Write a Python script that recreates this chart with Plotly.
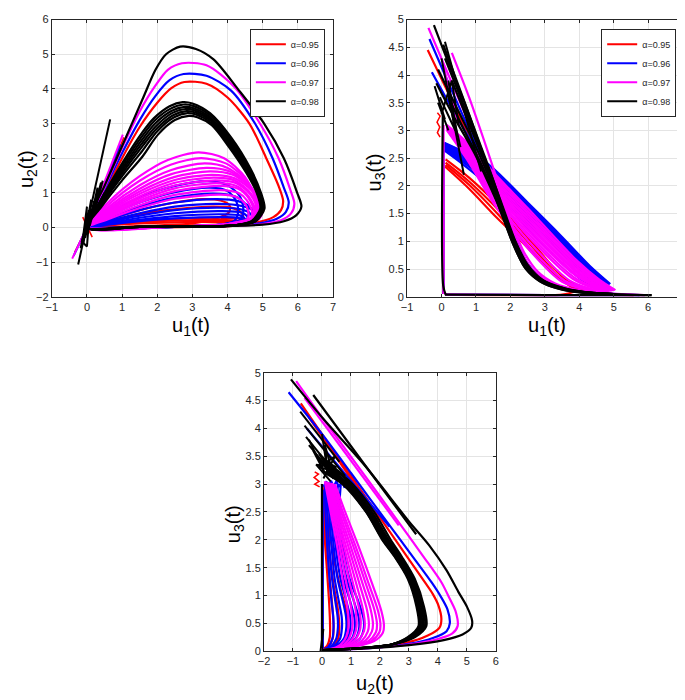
import plotly.graph_objects as go

# ---------------- legend / series labels ----------------
ALPHA_LABELS = ["α=0.95", "α=0.96", "α=0.97", "α=0.98"]
SERIES_KEYS = ["red", "blue", "mag", "blk"]

# ---------------- Panel 1 : u1 (x) vs u2 (y) ----------------
P1_RED = [
    [(0,0),(1,0.01),(2.5,0.02),(4,0.05),(4.8,0.14),(5.3,0.3),(5.52,0.5),(5.58,0.77),(5.45,1.2),(5.1,2.0),(4.62,3.0),(4.0,3.75),(3.4,4.15),(2.77,4.2),(2.4,4.02),(2.0,3.6),(1.5,2.9),(1.0,2.0),(0.5,1.0),(0,0)],
    [(0,0),(0.6,0.22),(1.5,0.5),(2.5,0.72),(3.3,0.82),(3.8,0.78),(4.05,0.65),(4.05,0.45),(3.8,0.3),(3.0,0.12),(1.5,0.04),(0,0)],
    [(0,0),(0.6,0.17),(1.5,0.38),(2.5,0.52),(3.6,0.6),(4.15,0.56),(4.4,0.42),(4.45,0.28),(4.3,0.15),(3.0,0.06),(1.5,0.03),(0,0)],
    [(0,0),(0.6,0.1),(1.5,0.2),(2.5,0.25),(3.8,0.28),(4.35,0.26),(4.55,0.2),(4.5,0.12),(4.2,0.08),(3.0,0.04),(0,0)],
    [(0,0),(0.6,0.08),(1.5,0.16),(2.5,0.2),(3.5,0.22),(4.2,0.2),(4.4,0.15),(4.2,0.08),(3.0,0.03),(0,0)],
    [(0,0),(0.6,0.06),(1.5,0.12),(2.5,0.15),(3.6,0.16),(4.3,0.14),(4.45,0.1),(4.2,0.05),(3.0,0.02),(0,0)],
]
P1_RED_SPIKES = [
    [(-0.12,0.3),(0.15,-0.28)],
    [(-0.08,-0.1),(0.1,0.12)],
    [(-0.35,-0.72),(0,0)],
    [(0,0),(1.05,2.6)],
]
P1_BLUE = [
    [(0,0),(1,0.01),(2.5,0.02),(4,0.05),(4.9,0.12),(5.4,0.25),(5.66,0.45),(5.74,0.72),(5.6,1.15),(5.28,2.0),(4.78,3.0),(4.1,3.95),(3.4,4.38),(2.75,4.43),(2.35,4.25),(1.95,3.8),(1.5,3.1),(1.0,2.15),(0.5,1.1),(0,0)],
    [(0,0),(0.6,0.4),(1.5,0.86),(2.5,1.2),(3.45,1.34),(4.0,1.22),(4.35,0.9),(4.45,0.5),(4.35,0.22),(3.8,0.08),(2.5,0.03),(0,0)],
    [(0,0),(0.6,0.33),(1.5,0.72),(2.5,1.02),(3.5,1.15),(4.0,1.05),(4.25,0.75),(4.3,0.45),(4.2,0.2),(3.8,0.08),(2.5,0.03),(0,0)],
    [(0,0),(0.6,0.27),(1.5,0.6),(2.5,0.86),(3.6,0.98),(4.2,0.9),(4.5,0.68),(4.6,0.4),(4.5,0.18),(3.8,0.07),(2.5,0.03),(0,0)],
    [(0,0),(0.6,0.22),(1.5,0.5),(2.5,0.72),(3.7,0.82),(4.3,0.76),(4.65,0.58),(4.75,0.35),(4.65,0.16),(3.8,0.06),(2.5,0.03),(0,0)],
    [(0,0),(0.6,0.18),(1.5,0.41),(2.5,0.6),(3.75,0.68),(4.4,0.62),(4.75,0.48),(4.85,0.3),(4.7,0.14),(3.8,0.06),(2.5,0.03),(0,0)],
    [(0,0),(0.6,0.15),(1.5,0.34),(2.5,0.5),(3.8,0.57),(4.4,0.52),(4.65,0.4),(4.7,0.26),(4.6,0.12),(3.8,0.05),(2.5,0.02),(0,0)],
    [(0,0),(0.6,0.12),(1.5,0.28),(2.5,0.41),(3.85,0.47),(4.4,0.43),(4.55,0.33),(4.6,0.22),(4.5,0.1),(3.8,0.05),(2.5,0.02),(0,0)],
    [(0,0),(0.6,0.1),(1.5,0.22),(2.5,0.33),(3.9,0.38),(4.35,0.35),(4.48,0.27),(4.5,0.18),(4.4,0.09),(3.8,0.04),(2.5,0.02),(0,0)],
    [(0,0),(0.6,0.08),(1.5,0.18),(2.5,0.26),(3.9,0.3),(4.3,0.28),(4.45,0.2),(4.4,0.1),(3.8,0.04),(2.5,0.02),(0,0)],
]
P1_BLUE_SPIKES = [
    [(-0.38,-0.82),(0,0)],
    [(0,0),(0.95,2.4)],
]
P1_MAG = [
    [(0,0),(1,0.01),(2.5,0.02),(4,0.04),(5,0.1),(5.5,0.2),(5.8,0.4),(5.9,0.68),(5.78,1.1),(5.45,2.0),(4.92,3.0),(4.2,4.05),(3.4,4.68),(2.7,4.74),(2.3,4.55),(1.95,4.1),(1.5,3.35),(1.0,2.3),(0.5,1.15),(0,0)],
    [(0,0),(0.6,0.72),(1.5,1.48),(2.3,1.95),(3.17,2.17),(3.9,2.0),(4.5,1.45),(4.8,0.75),(4.7,0.3),(4.0,0.1),(2.5,0.03),(0,0)],
    [(0,0),(0.6,0.65),(1.5,1.35),(2.4,1.82),(3.25,2.0),(3.95,1.85),(4.55,1.35),(4.85,0.7),(4.75,0.3),(4.0,0.1),(2.5,0.03),(0,0)],
    [(0,0),(0.6,0.58),(1.5,1.22),(2.4,1.66),(3.35,1.85),(4.0,1.72),(4.6,1.25),(4.9,0.65),(4.8,0.28),(4.0,0.09),(2.5,0.03),(0,0)],
    [(0,0),(0.6,0.53),(1.5,1.12),(2.4,1.54),(3.4,1.72),(4.05,1.62),(4.65,1.18),(4.95,0.6),(4.85,0.27),(4.0,0.09),(2.5,0.03),(0,0)],
    [(0,0),(0.6,0.49),(1.5,1.04),(2.5,1.46),(3.5,1.62),(4.15,1.52),(4.7,1.1),(5.0,0.55),(4.9,0.25),(4.0,0.08),(2.5,0.03),(0,0)],
    [(0,0),(0.6,0.45),(1.5,0.97),(2.5,1.37),(3.55,1.52),(4.2,1.42),(4.7,1.05),(4.95,0.55),(4.85,0.25),(4.0,0.08),(2.5,0.03),(0,0)],
    [(0,0),(0.6,0.42),(1.5,0.9),(2.5,1.29),(3.6,1.44),(4.2,1.36),(4.65,1.0),(4.9,0.5),(4.8,0.22),(4.0,0.07),(2.5,0.03),(0,0)],
    [(0,0),(0.6,0.38),(1.5,0.84),(2.5,1.21),(3.65,1.36),(4.25,1.28),(4.65,0.95),(4.85,0.5),(4.75,0.22),(4.0,0.07),(2.5,0.03),(0,0)],
    [(0,0),(0.6,0.35),(1.5,0.78),(2.5,1.13),(3.7,1.28),(4.25,1.2),(4.6,0.9),(4.8,0.45),(4.7,0.2),(4.0,0.07),(2.5,0.03),(0,0)],
    [(0,0),(0.6,0.32),(1.5,0.72),(2.5,1.05),(3.75,1.2),(4.3,1.12),(4.6,0.85),(4.75,0.45),(4.65,0.2),(4.0,0.07),(2.5,0.03),(0,0)],
    [(0,0),(0.6,0.28),(1.5,0.64),(2.5,0.94),(3.8,1.08),(4.3,1.0),(4.55,0.78),(4.7,0.42),(4.6,0.18),(4.0,0.06),(2.5,0.03),(0,0)],
    [(0,0),(0.6,0.24),(1.5,0.56),(2.5,0.83),(3.8,0.95),(4.25,0.88),(4.5,0.68),(4.6,0.38),(4.5,0.16),(4.0,0.06),(2.5,0.03),(0,0)],
]
P1_MAG_SPIKES = [
    [(-0.42,-0.9),(0,0)],
    [(0,0),(1.02,2.68)],
]
P1_BLK = [
    [(0,0),(1,0.01),(2.5,0.02),(4,0.04),(5,0.08),(5.6,0.18),(5.95,0.35),(6.1,0.6),(5.98,1.0),(5.6,2.0),(5.04,3.0),(4.29,4.0),(3.6,4.85),(3.1,5.15),(2.65,5.22),(2.25,5.0),(1.95,4.55),(1.58,3.7),(1.0,2.35),(0.5,1.2),(0,0)],
    [(0,0),(1.5,0.02),(3,0.03),(4.2,0.06),(4.8,0.18),(5.05,0.55),(4.95,1.0),(4.65,1.7),(4.1,2.6),(3.5,3.3),(3.0,3.58),(2.72,3.62),(2.35,3.5),(1.9,3.15),(1.58,2.75),(1.0,1.85),(0.4,0.8),(0,0)],
    [(0,0),(1.5,0.02),(3,0.03),(4.2,0.06),(4.78,0.18),(5.02,0.55),(4.92,1.0),(4.62,1.68),(4.08,2.56),(3.5,3.24),(3.02,3.51),(2.75,3.55),(2.38,3.43),(1.92,3.08),(1.58,2.65),(1.0,1.78),(0.4,0.77),(0,0)],
    [(0,0),(1.5,0.02),(3,0.03),(4.2,0.06),(4.76,0.18),(5.0,0.55),(4.9,1.0),(4.6,1.66),(4.06,2.52),(3.5,3.18),(3.04,3.44),(2.78,3.48),(2.4,3.36),(1.94,3.0),(1.58,2.55),(1.0,1.7),(0.4,0.74),(0,0)],
    [(0,0),(1.5,0.02),(3,0.03),(4.2,0.06),(4.74,0.18),(4.98,0.55),(4.88,1.0),(4.58,1.64),(4.05,2.48),(3.5,3.13),(3.06,3.38),(2.8,3.42),(2.42,3.3),(1.96,2.92),(1.58,2.45),(1.0,1.63),(0.4,0.7),(0,0)],
    [(0,0),(1.5,0.02),(3,0.03),(4.2,0.06),(4.72,0.18),(4.96,0.55),(4.86,1.0),(4.56,1.62),(4.04,2.44),(3.52,3.08),(3.08,3.32),(2.83,3.36),(2.45,3.24),(1.98,2.85),(1.58,2.35),(1.0,1.56),(0.4,0.67),(0,0)],
    [(0,0),(1.5,0.02),(3,0.03),(4.2,0.06),(4.7,0.18),(4.95,0.55),(4.85,1.0),(4.55,1.6),(4.03,2.4),(3.53,3.02),(3.1,3.26),(2.86,3.3),(2.48,3.18),(2.0,2.78),(1.58,2.22),(1.0,1.48),(0.4,0.63),(0,0)],
    [(0,0),(1.5,0.02),(3,0.03),(4.2,0.06),(4.68,0.18),(4.93,0.55),(4.83,1.0),(4.53,1.58),(4.02,2.35),(3.55,2.95),(3.14,3.18),(2.9,3.22),(2.5,3.1),(2.02,2.68),(1.58,2.05),(1.0,1.36),(0.4,0.58),(0,0)],
]
P1_BLK_SPIKES = [
    [(-0.25,-1.07),(0.66,3.12)],
    [(-0.18,-0.6),(0.05,0.5),(-0.1,-0.45),(0.12,0.8),(-0.05,-0.3),(0.2,0.75),(0.02,-0.15),(0.3,1.15),(0.08,0.05),(0.4,1.3)],
    [(-0.12,-0.35),(0.0,0.6),(-0.05,0.0),(0.1,0.5),(-0.15,-0.4),(0.0,-0.55),(0.05,0.1)],
    [(0.0,0.0),(0.45,1.35),(0.2,0.4),(0.5,1.0)],
]

# ---------------- Panel 2 : u1 (x) vs u3 (y) ----------------
P2_RED = [
    [(-0.4,4.45),(0.1,3.8),(0.6,3.15),(1.1,2.5),(1.5,1.95),(1.85,1.42),(2.15,0.95),(2.5,0.55),(3.0,0.28),(3.8,0.12),(4.6,0.06),(5.58,0.03)],
    [(0.12,2.48),(0.8,2.15),(1.76,1.58),(2.6,1.0),(3.45,0.4),(4.1,0.12)],
    [(0.12,2.42),(0.8,2.08),(1.76,1.5),(2.6,0.93),(3.4,0.37),(4.0,0.12)],
    [(0.12,2.38),(0.8,2.02),(1.7,1.45),(2.5,0.9),(3.3,0.38),(3.9,0.13)],
    [(0.1,2.35),(0.8,1.95),(1.6,1.43),(2.4,0.95),(3.2,0.45),(4.0,0.12)],
    [(0.05,0.05),(0.05,2.45)],
    [(0.1,0.04),(2.0,0.03),(3.5,0.04),(4.0,0.1),(4.3,0.05),(5.58,0.03)],
]
P2_RED_SPIKES = [
    [(-0.12,3.32),(-0.04,3.26),(-0.13,3.15),(-0.05,3.06),(-0.12,2.96),(-0.04,2.88)],
]
P2_BLUE = [
    [(-0.35,4.65),(0.1,4.0),(0.6,3.3),(1.1,2.6),(1.55,1.95),(1.9,1.4),(2.2,0.95),(2.55,0.55),(3.05,0.28),(3.8,0.12),(4.7,0.06),(5.75,0.03)],
    [(-0.28,4.05),(0.3,3.4),(0.9,2.75),(1.4,2.1),(1.8,1.55),(2.15,1.05),(2.5,0.6),(3.0,0.3),(3.7,0.14),(4.6,0.07),(5.2,0.04)],
    [(0.08,2.78),(0.6,2.63),(1.3,2.42),(2.5,1.7),(3.5,1.08),(4.3,0.56),(4.9,0.23)],
    [(0.08,2.77),(0.6,2.615),(1.3,2.39),(2.5,1.67),(3.5,1.05),(4.3,0.54),(4.88,0.225)],
    [(0.08,2.76),(0.6,2.6),(1.3,2.36),(2.5,1.64),(3.5,1.02),(4.3,0.52),(4.85,0.22)],
    [(0.08,2.75),(0.6,2.585),(1.3,2.335),(2.5,1.61),(3.5,0.99),(4.3,0.5),(4.82,0.215)],
    [(0.08,2.74),(0.6,2.57),(1.3,2.31),(2.5,1.58),(3.5,0.96),(4.3,0.48),(4.8,0.21)],
    [(0.08,2.73),(0.6,2.555),(1.3,2.285),(2.5,1.55),(3.5,0.93),(4.3,0.46),(4.78,0.205)],
    [(0.08,2.72),(0.6,2.54),(1.3,2.26),(2.5,1.52),(3.5,0.9),(4.3,0.44),(4.75,0.2)],
    [(0.08,2.71),(0.6,2.52),(1.3,2.235),(2.5,1.485),(3.5,0.87),(4.25,0.43),(4.72,0.2)],
    [(0.08,2.7),(0.6,2.5),(1.3,2.21),(2.5,1.45),(3.5,0.84),(4.2,0.42),(4.7,0.2)],
    [(0.08,2.68),(0.6,2.47),(1.3,2.16),(2.5,1.38),(3.5,0.78),(4.2,0.38),(4.6,0.19)],
    [(0.08,2.66),(0.6,2.44),(1.3,2.1),(2.5,1.3),(3.5,0.7),(4.1,0.36),(4.5,0.18)],
    [(0.08,2.64),(0.6,2.4),(1.3,2.04),(2.4,1.3),(3.4,0.66),(4.0,0.34),(4.4,0.18)],
    [(0.06,0.05),(0.06,2.77)],
    [(0.1,0.04),(3.0,0.03),(5.75,0.03)],
]
P2_BLUE_SPIKES = []
P2_MAG = [
    [(-0.38,4.85),(0.1,4.15),(0.65,3.35),(1.2,2.55),(1.6,1.95),(1.95,1.38),(2.25,0.9),(2.6,0.52),(3.1,0.27),(3.8,0.12),(4.8,0.06),(5.9,0.03)],
    [(0.15,3.1),(0.8,2.75),(1.5,2.25),(2.5,1.6),(3.9,0.67),(4.6,0.3),(5.05,0.12)],
    [(0.15,3.09),(0.8,2.72),(1.5,2.22),(2.5,1.55),(3.9,0.63),(4.6,0.28),(5.02,0.12)],
    [(0.15,3.08),(0.8,2.7),(1.5,2.18),(2.5,1.5),(3.9,0.6),(4.6,0.26),(5.0,0.12)],
    [(0.15,3.075),(0.8,2.68),(1.5,2.14),(2.5,1.45),(3.9,0.56),(4.6,0.24),(4.98,0.115)],
    [(0.15,3.07),(0.8,2.66),(1.5,2.1),(2.5,1.4),(3.9,0.52),(4.6,0.22),(4.95,0.11)],
    [(0.15,3.065),(0.8,2.64),(1.5,2.06),(2.5,1.35),(3.9,0.48),(4.55,0.21),(4.92,0.11)],
    [(0.15,3.06),(0.8,2.62),(1.5,2.02),(2.5,1.3),(3.9,0.45),(4.5,0.2),(4.9,0.11)],
    [(0.15,3.055),(0.8,2.6),(1.5,1.98),(2.5,1.25),(3.9,0.41),(4.5,0.19),(4.87,0.105)],
    [(0.15,3.05),(0.8,2.58),(1.5,1.95),(2.5,1.2),(3.9,0.38),(4.5,0.18),(4.85,0.1)],
    [(0.15,3.045),(0.8,2.56),(1.5,1.91),(2.5,1.15),(3.85,0.35),(4.45,0.17),(4.82,0.1)],
    [(0.15,3.04),(0.8,2.54),(1.5,1.88),(2.5,1.1),(3.8,0.33),(4.4,0.16),(4.8,0.1)],
    [(0.15,3.03),(0.8,2.5),(1.5,1.82),(2.5,1.02),(3.7,0.3),(4.3,0.15),(4.75,0.1)],
    [(0.15,3.02),(0.8,2.46),(1.5,1.76),(2.5,0.94),(3.6,0.28),(4.3,0.14),(4.7,0.09)],
    [(0.15,3.01),(0.8,2.42),(1.5,1.7),(2.5,0.88),(3.5,0.27),(4.2,0.13),(4.65,0.09)],
    [(0.3,4.4),(0.8,3.6),(1.3,2.7),(1.7,1.95),(2.05,1.3),(2.4,0.8),(2.8,0.45),(3.3,0.24),(4.0,0.12),(5.0,0.05)],
    [(0.06,0.05),(0.06,3.1)],
    [(0.1,0.04),(3.0,0.03),(5.9,0.03)],
]
P2_MAG_SPIKES = [
    [(0.05,4.2),(0.35,3.4),(0.15,3.9),(0.5,3.1)],
]
P2_BLK = [
    [(-0.22,4.9),(0.15,4.3),(0.7,3.45),(1.25,2.5),(1.6,1.9),(1.9,1.35),(2.2,0.9),(2.55,0.5),(3.0,0.27),(3.7,0.13),(4.6,0.06),(5.4,0.04),(6.1,0.03)],
    [(0.05,4.55),(0.5,3.8),(1.0,2.95),(1.45,2.2),(1.8,1.55),(2.1,1.05),(2.45,0.6),(2.9,0.3),(3.6,0.14),(4.4,0.07),(5.0,0.05)],
    [(0.1,4.3),(0.55,3.6),(1.05,2.8),(1.5,2.1),(1.85,1.5),(2.15,1.0),(2.5,0.58),(2.95,0.3),(3.6,0.15),(4.4,0.07),(5.0,0.05)],
    [(-0.1,4.1),(0.45,3.4),(1.0,2.7),(1.45,2.05),(1.8,1.5),(2.1,1.0),(2.45,0.56),(2.9,0.29),(3.5,0.15),(4.3,0.07),(4.95,0.05)],
    [(0.3,3.9),(0.75,3.2),(1.2,2.5),(1.55,1.95),(1.85,1.45),(2.15,0.95),(2.5,0.53),(3.0,0.27),(3.7,0.12),(4.5,0.06),(5.0,0.05)],
    [(0.2,3.6),(0.7,2.95),(1.15,2.4),(1.5,1.9),(1.8,1.4),(2.1,0.92),(2.45,0.5),(2.95,0.25),(3.6,0.12),(4.4,0.06),(5.0,0.04)],
    [(-0.15,3.85),(0.4,3.2),(0.95,2.6),(1.4,2.0),(1.75,1.5),(2.05,1.0),(2.4,0.55),(2.85,0.28),(3.5,0.13),(4.3,0.06),(5.05,0.04)],
    [(0.12,0.04),(0.05,0.2),(0.04,3.3)],
    [(0.1,0.04),(3.0,0.03),(6.1,0.03)],
]
P2_BLK_SPIKES = [
    [(0.1,4.6),(1.15,2.26)],
    [(0.0,4.3),(0.65,2.2)],
    [(0.2,3.9),(0.45,2.9)],
    [(-0.05,3.6),(0.4,3.0),(0.15,3.8),(0.55,2.7)],
    [(0.0,3.3),(0.3,3.9),(0.5,3.1)],
    [(-0.2,3.8),(0.1,3.2),(-0.1,3.5),(0.2,3.0)],
]

# ---------------- Panel 3 : u2 (x) vs u3 (y) ----------------
P3_RED = [
    [(0,0.02),(1.5,0.06),(2.9,0.15),(3.65,0.28),(4.05,0.42),(4.12,0.58),(4.02,0.82),(3.82,1.03),(3.56,1.23),(3.0,1.65),(2.2,2.25),(1.0,3.15),(0,3.9),(-0.73,4.45)],
    [(-0.45,4.2),(0.8,3.25),(1.97,2.32)],
    [(0,0.02),(0.5,0.08),(0.82,0.22),(0.9,0.42),(0.85,0.7),(0.65,1.1),(0.4,1.7),(0.22,2.3),(0.12,2.9)],
    [(0,0.02),(0.35,0.08),(0.55,0.22),(0.6,0.42),(0.55,0.75),(0.4,1.2),(0.25,1.8),(0.12,2.4),(0.05,2.9)],
    [(0,0.02),(0.25,0.1),(0.38,0.25),(0.4,0.45),(0.35,0.85),(0.25,1.4),(0.15,2.0),(0.08,2.6),(0.02,2.95)],
    [(0,0.02),(0.18,0.1),(0.27,0.25),(0.28,0.45),(0.25,0.85),(0.18,1.4),(0.1,2.0),(0.05,2.6),(0.02,2.9)],
    [(0.02,0.02),(0.02,2.95)],
]
P3_RED_SPIKES = [
    [(-0.25,3.22),(-0.12,3.18),(-0.27,3.12),(-0.1,3.05),(-0.25,3.0),(-0.08,2.95)],
]
P3_BLUE = [
    [(0,0.02),(1.5,0.05),(3.0,0.13),(3.85,0.24),(4.3,0.36),(4.41,0.5),(4.33,0.75),(4.1,0.98),(3.79,1.23),(3.2,1.65),(2.3,2.28),(1.0,3.2),(0,3.9),(-1.15,4.65)],
    [(-0.52,4.0),(0.9,3.12),(2.33,2.24)],
    [(0,0.02),(0.8,0.08),(1.3,0.22),(1.44,0.4),(1.43,0.6),(1.25,0.9),(0.95,1.3),(0.72,1.9),(0.6,2.5),(0.65,3.0)],
    [(0,0.02),(0.7,0.08),(1.15,0.22),(1.28,0.4),(1.27,0.6),(1.1,0.9),(0.85,1.3),(0.63,1.9),(0.52,2.5),(0.55,3.0)],
    [(0,0.02),(0.6,0.08),(1.02,0.22),(1.13,0.4),(1.12,0.6),(0.97,0.9),(0.74,1.3),(0.55,1.9),(0.45,2.5),(0.45,3.0)],
    [(0,0.02),(0.5,0.08),(0.88,0.22),(0.98,0.42),(0.97,0.62),(0.84,0.9),(0.64,1.3),(0.47,1.9),(0.38,2.5),(0.35,3.0)],
    [(0,0.02),(0.45,0.08),(0.75,0.22),(0.84,0.42),(0.83,0.62),(0.72,0.9),(0.54,1.3),(0.4,1.9),(0.31,2.5),(0.27,3.0)],
    [(0,0.02),(0.38,0.08),(0.62,0.22),(0.69,0.42),(0.68,0.62),(0.58,0.9),(0.44,1.3),(0.33,1.9),(0.25,2.5),(0.2,3.0)],
    [(0,0.02),(0.3,0.08),(0.49,0.22),(0.55,0.42),(0.54,0.62),(0.46,0.9),(0.35,1.3),(0.25,1.9),(0.18,2.5),(0.15,3.0)],
    [(0,0.02),(0.22,0.08),(0.36,0.22),(0.4,0.42),(0.39,0.62),(0.33,0.9),(0.26,1.3),(0.18,1.9),(0.12,2.5),(0.1,3.0)],
    [(0.03,0.02),(0.03,2.9)],
]
P3_BLUE_SPIKES = [
    [(0.05,2.95),(0.15,3.05),(0.22,2.95),(0.32,3.06),(0.4,2.95),(0.5,3.06),(0.58,2.95),(0.7,3.05),(0.78,2.93)],
]
P3_MAG = [
    [(0,0.02),(1.5,0.05),(3.0,0.12),(4.0,0.22),(4.5,0.32),(4.68,0.45),(4.62,0.7),(4.4,0.95),(4.13,1.23),(3.5,1.7),(2.6,2.35),(1.2,3.35),(0,4.2),(-0.89,4.85)],
    [(-0.6,4.55),(2.65,2.26)],
    [(0,0.02),(1.0,0.07),(1.8,0.18),(2.1,0.33),(2.14,0.45),(2.05,0.72),(1.74,1.2),(1.25,1.9),(0.8,2.5),(0.45,3.0)],
    [(0,0.02),(1.0,0.07),(1.7,0.18),(1.98,0.34),(2.02,0.46),(1.93,0.73),(1.62,1.2),(1.15,1.9),(0.72,2.5),(0.4,3.0)],
    [(0,0.02),(0.95,0.07),(1.6,0.18),(1.86,0.34),(1.9,0.47),(1.81,0.74),(1.52,1.2),(1.07,1.9),(0.66,2.5),(0.35,3.02)],
    [(0,0.02),(0.9,0.07),(1.5,0.19),(1.72,0.35),(1.76,0.48),(1.68,0.75),(1.41,1.2),(0.98,1.9),(0.6,2.5),(0.3,3.02)],
    [(0,0.02),(0.85,0.07),(1.38,0.19),(1.58,0.35),(1.62,0.48),(1.55,0.75),(1.3,1.2),(0.9,1.9),(0.55,2.5),(0.25,3.03)],
    [(0,0.02),(0.8,0.07),(1.26,0.2),(1.45,0.36),(1.48,0.49),(1.41,0.76),(1.19,1.2),(0.82,1.9),(0.5,2.5),(0.2,3.03)],
    [(0,0.02),(0.7,0.07),(1.14,0.2),(1.3,0.36),(1.34,0.5),(1.28,0.77),(1.08,1.2),(0.75,1.9),(0.45,2.5),(0.2,3.04)],
    [(0,0.02),(0.65,0.07),(1.02,0.2),(1.17,0.37),(1.2,0.5),(1.15,0.77),(0.97,1.2),(0.67,1.9),(0.4,2.5),(0.15,3.04)],
    [(0,0.02),(0.6,0.07),(0.9,0.2),(1.03,0.37),(1.06,0.5),(1.01,0.77),(0.85,1.2),(0.6,1.9),(0.35,2.5),(0.12,3.05)],
    [(0,0.02),(0.5,0.07),(0.78,0.2),(0.9,0.37),(0.92,0.5),(0.88,0.77),(0.74,1.2),(0.52,1.9),(0.3,2.5),(0.1,3.05)],
]
P3_MAG_SPIKES = []
P3_BLK = [
    [(0,0.02),(1.5,0.05),(3.0,0.11),(4.2,0.2),(4.85,0.3),(5.15,0.42),(5.18,0.55),(5.0,0.8),(4.7,1.07),(4.3,1.45),(3.7,1.9),(3.0,2.33),(1.5,3.32),(0.0,4.2),(-1.07,4.88)],
    [(-0.3,4.6),(1.5,3.33),(3.25,2.1)],
    [(0,0.02),(1.2,0.05),(2.4,0.12),(3.2,0.25),(3.6,0.45),(3.52,0.8),(3.2,1.3),(2.75,1.7),(2.37,2.0),(1.8,2.5),(1.05,3.0),(0.3,3.35)],
    [(0,0.02),(1.2,0.05),(2.4,0.12),(3.15,0.25),(3.55,0.45),(3.47,0.8),(3.15,1.3),(2.7,1.7),(2.3,2.0),(1.72,2.5),(1.0,3.0),(0.25,3.33)],
    [(0,0.02),(1.2,0.05),(2.4,0.12),(3.1,0.25),(3.5,0.45),(3.42,0.8),(3.1,1.3),(2.65,1.7),(2.25,2.0),(1.66,2.5),(0.92,3.0),(0.2,3.3)],
    [(0,0.02),(1.2,0.05),(2.4,0.12),(3.06,0.25),(3.45,0.45),(3.37,0.8),(3.06,1.3),(2.6,1.7),(2.2,2.0),(1.6,2.5),(0.85,3.0),(0.2,3.28)],
    [(0,0.02),(1.2,0.05),(2.4,0.12),(3.02,0.25),(3.4,0.45),(3.33,0.8),(3.02,1.3),(2.56,1.7),(2.15,2.0),(1.56,2.5),(0.8,3.0),(0.15,3.25)],
    [(0,0.02),(1.2,0.05),(2.4,0.12),(2.99,0.25),(3.37,0.45),(3.3,0.8),(2.99,1.3),(2.52,1.7),(2.1,2.0),(1.53,2.5),(0.75,3.0),(0.1,3.22)],
    [(0,0.02),(1.2,0.05),(2.4,0.12),(2.96,0.25),(3.33,0.45),(3.26,0.8),(2.96,1.3),(2.5,1.7),(2.08,2.0),(1.52,2.5),(0.71,3.0),(0.1,3.2)],
    [(0.0,0.0),(0.0,3.0)],
]
P3_BLK_SPIKES = [
    [(-0.75,4.3),(0.6,3.4)],
    [(-0.55,3.85),(0.3,3.3)],
    [(-0.45,3.7),(0.5,3.1)],
    [(-0.6,4.05),(0.8,3.15)],
    [(-0.45,3.8),(0.1,3.2),(-0.3,3.6),(0.4,3.1),(-0.1,3.55),(0.6,3.15),(0.0,3.45),(0.5,3.3),(-0.2,3.35),(0.3,3.05)],
    [(0.0,3.9),(0.2,3.2),(0.1,3.7),(0.35,3.25),(-0.1,3.3),(0.45,3.5),(0.05,3.1)],
    [(-0.05,0.0),(0.05,0.4),(-0.02,0.1)],
]

# ---------------- styling ----------------
LINE_COLORS = {"red": "#ff0000", "blue": "#0000ff", "mag": "#ff00ff", "blk": "#000000"}
SPIKE_WIDTH = {"red": 1.5, "blue": 2, "mag": 2, "blk": 2}
TICK_FONT = dict(family="Liberation Sans Narrow, Arial Narrow, Liberation Sans, Arial, sans-serif",
                 size=11, color="#262626")
TITLE_FONT = dict(family="Liberation Sans, Arial, sans-serif", size=20, color="#000000")
LEGEND_FONT = dict(family="Liberation Sans Narrow, Liberation Sans, Arial, sans-serif", size=9, color="#262626")


def join(curves):
    xs, ys = [], []
    for c in curves:
        for (x, y) in c:
            xs.append(x)
            ys.append(y)
        xs.append(None)
        ys.append(None)
    return xs, ys


PANELS = [
    ("x", "y", {"red": (P1_RED, P1_RED_SPIKES), "blue": (P1_BLUE, P1_BLUE_SPIKES),
                "mag": (P1_MAG, P1_MAG_SPIKES), "blk": (P1_BLK, P1_BLK_SPIKES)}, "legend"),
    ("x2", "y2", {"red": (P2_RED, P2_RED_SPIKES), "blue": (P2_BLUE, P2_BLUE_SPIKES),
                  "mag": (P2_MAG, P2_MAG_SPIKES), "blk": (P2_BLK, P2_BLK_SPIKES)}, "legend2"),
    ("x3", "y3", {"red": (P3_RED, P3_RED_SPIKES), "blue": (P3_BLUE, P3_BLUE_SPIKES),
                  "mag": (P3_MAG, P3_MAG_SPIKES), "blk": (P3_BLK, P3_BLK_SPIKES)}, None),
]

fig = go.Figure()
for xa, ya, data, leg in PANELS:
    for key, label in zip(SERIES_KEYS, ALPHA_LABELS):
        smooth, spikes = data[key]
        xs, ys = join(smooth)
        kw = dict(legend=leg) if leg else {}
        fig.add_trace(go.Scatter(
            x=xs, y=ys, xaxis=xa, yaxis=ya, mode="lines", name=label,
            line=dict(color=LINE_COLORS[key], width=2.2, shape="spline", smoothing=0.8),
            showlegend=leg is not None, legendgroup=f"{leg}-{key}", hoverinfo="skip", **kw))
        if spikes:
            sx, sy = join(spikes)
            fig.add_trace(go.Scatter(
                x=sx, y=sy, xaxis=xa, yaxis=ya, mode="lines", name=label,
                line=dict(color=LINE_COLORS[key], width=SPIKE_WIDTH[key]),
                showlegend=False, hoverinfo="skip"))

W, H = 685, 700


def px_dom_x(a, b):
    return [a / W, b / W]


def px_dom_y(top, bottom):
    return [1 - bottom / H, 1 - top / H]


axis_common = dict(showline=True, linecolor="#262626", linewidth=1, mirror="ticks",
                   ticks="inside", ticklen=3, tickcolor="#262626", tickfont=TICK_FONT,
                   showgrid=True, gridcolor="#e4e4e4", gridwidth=1, zeroline=False)

fig.update_layout(
    width=W, height=H, margin=dict(l=0, r=0, t=0, b=0),
    paper_bgcolor="white", plot_bgcolor="white",
    xaxis=dict(domain=px_dom_x(38.3, 323.3), range=[-1, 7], dtick=1, anchor="y", **axis_common),
    yaxis=dict(domain=px_dom_y(5.7, 287.7), range=[-2, 6], dtick=1, anchor="x", **axis_common),
    xaxis2=dict(domain=px_dom_x(398.3, 677.5), range=[-1, 7], dtick=1, anchor="y2", **axis_common),
    yaxis2=dict(domain=px_dom_y(5.7, 287.7), range=[0, 5], dtick=0.5, anchor="x2", **axis_common),
    xaxis3=dict(domain=px_dom_x(253.3, 488.3), range=[-2, 6], dtick=1, anchor="y3", **axis_common),
    yaxis3=dict(domain=px_dom_y(365, 648.3), range=[0, 5], dtick=0.5, anchor="x3", **axis_common),
    legend=dict(x=315 / W, y=1 - 15 / H, xanchor="right", yanchor="top",
                bgcolor="white", bordercolor="#262626", borderwidth=1,
                font=LEGEND_FONT, itemwidth=30, tracegroupgap=0),
    legend2=dict(x=671 / W, y=1 - 15 / H, xanchor="right", yanchor="top",
                 bgcolor="white", bordercolor="#262626", borderwidth=1,
                 font=LEGEND_FONT, itemwidth=30, tracegroupgap=0),
    showlegend=True,
)

TITLES = [
    ("u<sub>1</sub>(t)", 179, 318, 0),
    ("u<sub>2</sub>(t)", 13, 158, -90),
    ("u<sub>1</sub>(t)", 540, 318, 0),
    ("u<sub>3</sub>(t)", 366, 161, -90),
    ("u<sub>2</sub>(t)", 366, 682, 0),
    ("u<sub>3</sub>(t)", 223, 519, -90),
]
for text, px, py, ang in TITLES:
    fig.add_annotation(text=text, xref="paper", yref="paper", x=px / W, y=1 - py / H,
                       xanchor="center", yanchor="middle", showarrow=False,
                       textangle=ang, font=TITLE_FONT)

fig.write_html("out.html")
